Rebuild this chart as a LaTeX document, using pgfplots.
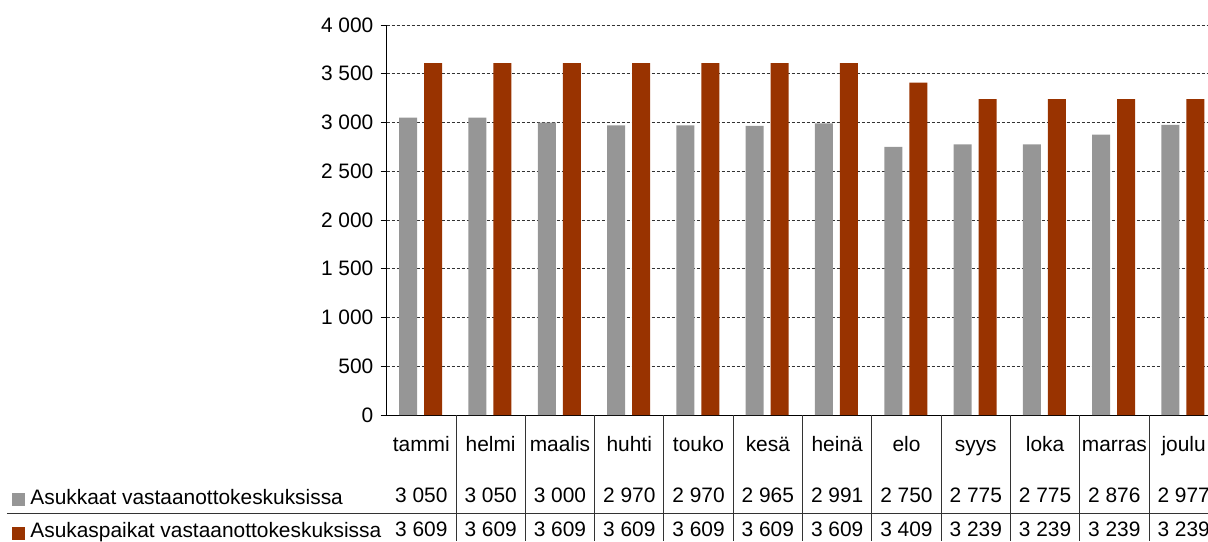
\documentclass[border=0pt]{standalone}
\usepackage{pgfplots}
\pgfplotsset{compat=1.18}
\usepackage{fontspec}
\setmainfont{Liberation Sans}
\definecolor{bargray}{HTML}{969696}
\definecolor{barred}{HTML}{993300}
\begin{document}
\fontsize{10.45}{12.5}\selectfont
\begin{tikzpicture}[font=\fontsize{10.45}{12.5}\selectfont]
\begin{axis}[
 at={(0,0)}, anchor=south west,
 scale only axis, width=415.8pt, height=195pt,
 xmin=-0.5, xmax=11.5, ymin=0, ymax=4000,
 axis x line=bottom, axis y line=left,
 axis line style={-, black, line width=0.5pt},
 xtick=\empty,
 ytick={0,500,...,4000},
 ymajorgrids,
 grid style={black!80, line width=0.5pt, dash pattern=on 1.5pt off 1pt},
 tick align=outside, major tick length=3pt,
 tick style={black, line width=0.5pt},
 /pgf/number format/assume math mode=true,
 /pgf/number format/1000 sep={\ },
 ybar, bar width=9pt,
 clip=false,
]
\addplot[fill=bargray, draw=none, bar shift=-6.6pt] coordinates {
 (0,3050) (1,3050) (2,3000) (3,2970) (4,2970) (5,2965)
 (6,2991) (7,2750) (8,2775) (9,2775) (10,2876) (11,2977)};
\addplot[fill=barred, draw=none, bar shift=5.9pt] coordinates {
 (0,3609) (1,3609) (2,3609) (3,3609) (4,3609) (5,3609)
 (6,3609) (7,3409) (8,3239) (9,3239) (10,3239) (11,3239)};
% table borders
\pgfplotsinvokeforeach{0.5,1.5,2.5,3.5,4.5,5.5,6.5,7.5,8.5,9.5,10.5,11.5}{
 \draw[black!80, line width=0.5pt] (axis cs:#1,0) -- ([yshift=-63pt]axis cs:#1,0);
}
% category names
\node[anchor=base, yshift=-18.35pt] at (axis cs:0,0) {tammi};
\node[anchor=base, yshift=-18.35pt] at (axis cs:1,0) {helmi};
\node[anchor=base, yshift=-18.35pt] at (axis cs:2,0) {maalis};
\node[anchor=base, yshift=-18.35pt] at (axis cs:3,0) {huhti};
\node[anchor=base, yshift=-18.35pt] at (axis cs:4,0) {touko};
\node[anchor=base, yshift=-18.35pt] at (axis cs:5,0) {kesä};
\node[anchor=base, yshift=-18.35pt] at (axis cs:6,0) {heinä};
\node[anchor=base, yshift=-18.35pt] at (axis cs:7,0) {elo};
\node[anchor=base, yshift=-18.35pt] at (axis cs:8,0) {syys};
\node[anchor=base, yshift=-18.35pt] at (axis cs:9,0) {loka};
\node[anchor=base, yshift=-18.35pt] at (axis cs:10,0) {marras};
\node[anchor=base, yshift=-18.35pt] at (axis cs:11,0) {joulu};
% row 1 values
\node[anchor=base, yshift=-43.5pt] at (axis cs:0,0) {3~050};
\node[anchor=base, yshift=-43.5pt] at (axis cs:1,0) {3~050};
\node[anchor=base, yshift=-43.5pt] at (axis cs:2,0) {3~000};
\node[anchor=base, yshift=-43.5pt] at (axis cs:3,0) {2~970};
\node[anchor=base, yshift=-43.5pt] at (axis cs:4,0) {2~970};
\node[anchor=base, yshift=-43.5pt] at (axis cs:5,0) {2~965};
\node[anchor=base, yshift=-43.5pt] at (axis cs:6,0) {2~991};
\node[anchor=base, yshift=-43.5pt] at (axis cs:7,0) {2~750};
\node[anchor=base, yshift=-43.5pt] at (axis cs:8,0) {2~775};
\node[anchor=base, yshift=-43.5pt] at (axis cs:9,0) {2~775};
\node[anchor=base, yshift=-43.5pt] at (axis cs:10,0) {2~876};
\node[anchor=base, yshift=-43.5pt] at (axis cs:11,0) {2~977};
% row 2 values
\node[anchor=base, yshift=-60.85pt] at (axis cs:0,0) {3~609};
\node[anchor=base, yshift=-60.85pt] at (axis cs:1,0) {3~609};
\node[anchor=base, yshift=-60.85pt] at (axis cs:2,0) {3~609};
\node[anchor=base, yshift=-60.85pt] at (axis cs:3,0) {3~609};
\node[anchor=base, yshift=-60.85pt] at (axis cs:4,0) {3~609};
\node[anchor=base, yshift=-60.85pt] at (axis cs:5,0) {3~609};
\node[anchor=base, yshift=-60.85pt] at (axis cs:6,0) {3~609};
\node[anchor=base, yshift=-60.85pt] at (axis cs:7,0) {3~409};
\node[anchor=base, yshift=-60.85pt] at (axis cs:8,0) {3~239};
\node[anchor=base, yshift=-60.85pt] at (axis cs:9,0) {3~239};
\node[anchor=base, yshift=-60.85pt] at (axis cs:10,0) {3~239};
\node[anchor=base, yshift=-60.85pt] at (axis cs:11,0) {3~239};
\end{axis}
% row headers with legend keys
\fill[bargray] (-187.35pt,-45.35pt) rectangle (-180.85pt,-38.85pt);
\node[anchor=base west, inner sep=0pt] at (-178.35pt,-44.65pt) {Asukkaat vastaanottokeskuksissa};
\fill[barred] (-187.35pt,-62.5pt) rectangle (-180.85pt,-56pt);
\node[anchor=base west, inner sep=0pt] at (-178.35pt,-61.4pt) {Asukaspaikat vastaanottokeskuksissa};
\draw[black!80, line width=0.5pt] (-189.85pt,-49.35pt) -- (415.8pt,-49.35pt);
\pgfresetboundingbox
\path (-193.35pt,-63pt) rectangle (410.65pt,207.5pt);
\end{tikzpicture}
\end{document}
